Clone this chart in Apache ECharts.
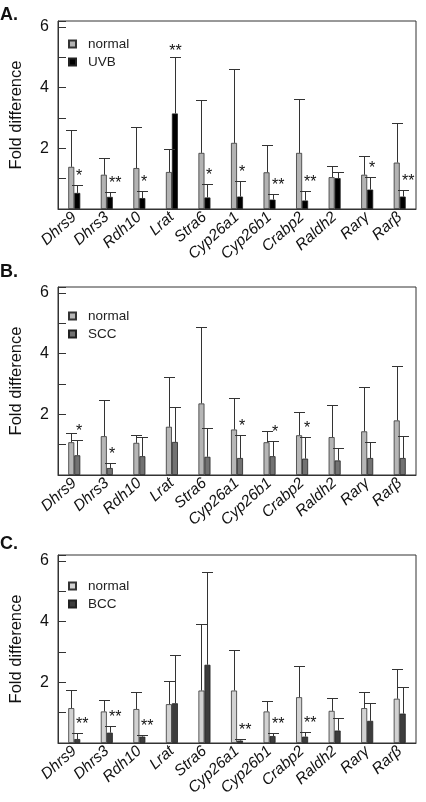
<!DOCTYPE html>
<html>
<head>
<meta charset="utf-8">
<script src="https://cdn.jsdelivr.net/npm/echarts@6/dist/echarts.min.js"></script>
<style>
html,body{margin:0;padding:0;background:#fff;}
#chart{width:426px;height:802px;}
</style>
</head>
<body>
<div id="chart"></div>
<script>
// ---------- data ----------
const categories = ['Dhrs9','Dhrs3','Rdh10','Lrat','Stra6','Cyp26a1','Cyp26b1','Crabp2','Raldh2','Rarγ','Rarβ'];
const yTickLabels = [2, 4, 6];

// Panel A: normal vs UVB
const normalA      = [1.39,1.13,1.35,1.22,1.85,2.18,1.21,1.85,1.05,1.13,1.53];
const normalAUpper = [2.60,1.68,2.69,1.97,3.61,4.63,2.10,3.63,1.42,1.75,2.82];
const uvb          = [0.53,0.40,0.36,3.15,0.38,0.41,0.31,0.28,1.02,0.64,0.41];
const uvbUpper     = [0.78,0.55,0.58,5.02,0.84,0.91,0.50,0.61,1.22,1.04,0.62];
const uvbStars     = ['*','**','*','**','*','*','**','**','','*','**'];

// Panel B: normal vs SCC
const normalB      = [1.08,1.28,1.06,1.59,2.36,1.50,1.08,1.31,1.25,1.44,1.80];
const normalBUpper = [1.39,2.48,1.33,3.23,4.89,2.54,1.46,2.07,2.31,2.91,3.58];
const scc          = [0.65,0.23,0.62,1.09,0.60,0.56,0.62,0.54,0.48,0.56,0.56];
const sccUpper     = [1.15,0.40,1.26,2.25,1.56,1.33,1.11,1.25,0.89,1.08,1.28];
const sccStars     = ['*','*','','','','*','*','*','','',''];

// Panel C: normal vs BCC
const normalC      = [1.15,1.04,1.12,1.28,1.73,1.73,1.04,1.51,1.06,1.15,1.46];
const normalCUpper = [1.75,1.42,1.67,2.06,3.91,3.08,1.39,2.53,1.48,1.68,2.44];
const bcc          = [0.13,0.34,0.21,1.31,2.58,0.08,0.23,0.21,0.41,0.73,0.97];
const bccUpper     = [0.32,0.57,0.25,2.89,5.65,0.13,0.32,0.37,0.82,1.31,1.84];
const bccStars     = ['**','**','**','','','**','**','**','','',''];

// ---------- layout / style ----------
const FONT = '"Liberation Sans", Arial, Helvetica, sans-serif';
const BAR_W = 6;
const panels = [
  {letter:'A.', top:21, letterTop:6, legendTop:37, treat:'UVB',
   n:normalA, nU:normalAUpper, t:uvb, tU:uvbUpper, stars:uvbStars,
   nColor:'#b3b3b3', tColor:'#000000'},
  {letter:'B.', top:287, letterTop:263, legendTop:309, treat:'SCC',
   n:normalB, nU:normalBUpper, t:scc, tU:sccUpper, stars:sccStars,
   nColor:'#b6b6b6', tColor:'#727272'},
  {letter:'C.', top:555, letterTop:535, legendTop:579, treat:'BCC',
   n:normalC, nU:normalCUpper, t:bcc, tU:bccUpper, stars:bccStars,
   nColor:'#d2d2d2', tColor:'#3d3d3d'}
];

const grid = [], xAxis = [], yAxis = [], series = [], legend = [], title = [];

function errSeries(pi, name, vals, uppers, stars, side, otherUppers) {
  return {
    type:'custom', name: name + '_err', xAxisIndex:pi, yAxisIndex:pi, z:5,
    silent:true,
    data: categories.map((c,i)=>[i, vals[i], uppers[i]]),
    renderItem(params, api) {
      const i = api.value(0);
      const base = api.coord([i, api.value(1)]);
      const top = api.coord([i, api.value(2)]);
      const x = Math.round(base[0] + side * BAR_W / 2) + 0.5;
      const yT = Math.round(top[1]) + 0.5;
      const children = [
        {type:'line', shape:{x1:x, y1:base[1], x2:x, y2:yT}, style:{stroke:'#333', lineWidth:1}},
        {type:'line', shape:{x1:x-5.5, y1:yT, x2:x+5.5, y2:yT}, style:{stroke:'#333', lineWidth:1}}
      ];
      const s = stars ? stars[params.dataIndex] : '';
      if (s) {
        const above = uppers[params.dataIndex] > otherUppers[params.dataIndex];
        children.push({type:'text', style:{
          text:s, x: above ? x : x - 1.5, y: above ? yT + 2 : yT - 1,
          align: above ? 'center' : 'left', verticalAlign:'bottom',
          font:'16px ' + FONT, fill:'#111'
        }});
      }
      return {type:'group', children};
    }
  };
}

panels.forEach((p, pi) => {
  grid.push({left:49, right:10, top:p.top, height:188, show:true, borderColor:'#333', borderWidth:1, backgroundColor:'transparent'});
  xAxis.push({
    type:'category', gridIndex:pi, data:categories,
    axisLine:{lineStyle:{color:'#333', width:1}},
    axisTick:{show:false},
    axisLabel:{interval:0, rotate:42, margin:6, fontStyle:'italic', fontSize:15.5, fontFamily:FONT, color:'#111'}
  });
  yAxis.push({
    type:'value', gridIndex:pi, min:0, max:6.2, interval:1,
    name:'Fold difference', nameLocation:'middle', nameGap:33,
    nameTextStyle:{fontSize:16.5, fontFamily:FONT, color:'#111'},
    axisLine:{show:true, lineStyle:{color:'#333', width:1}},
    axisTick:{show:true, inside:true, length:8, lineStyle:{color:'#333'}},
    splitLine:{show:false},
    axisLabel:{margin:9, fontSize:16, fontFamily:FONT, color:'#111',
      formatter: v => yTickLabels.indexOf(v) >= 0 ? String(v) : ''}
  });
  const nName = 'normal' + p.letter[0];
  const tName = p.treat;
  series.push({
    type:'bar', name:nName, xAxisIndex:pi, yAxisIndex:pi, data:p.n,
    barWidth:BAR_W, barGap:'0%',
    itemStyle:{color:p.nColor, borderColor:'#333', borderWidth:0.8}
  });
  series.push({
    type:'bar', name:tName, xAxisIndex:pi, yAxisIndex:pi, data:p.t,
    barWidth:BAR_W, barGap:'0%',
    itemStyle:{color:p.tColor, borderColor:'#222', borderWidth:0.8}
  });
  series.push(errSeries(pi, nName, p.n, p.nU, null, -1, p.tU));
  series.push(errSeries(pi, tName, p.t, p.tU, p.stars, 1, p.nU));
  legend.push({
    data:[nName, tName], orient:'vertical', left:68, top:p.legendTop, padding:0,
    itemWidth:7, itemHeight:7, itemGap:4, icon:'rect', selectedMode:false,
    formatter: name => name.indexOf('normal') === 0 ? 'normal' : name,
    textStyle:{fontSize:13.5, fontFamily:FONT, color:'#222', lineHeight:14, padding:[0,0,0,7]}
  });
  title.push({text:p.letter, left:0, top:p.letterTop, padding:0,
    textStyle:{fontSize:18, fontWeight:'bold', fontFamily:FONT, color:'#111'}});
});

const chart = echarts.init(document.getElementById('chart'), null, {renderer:'canvas'});
chart.setOption({animation:false, backgroundColor:'#fff', title, legend, grid, xAxis, yAxis, series});
</script>
</body>
</html>
